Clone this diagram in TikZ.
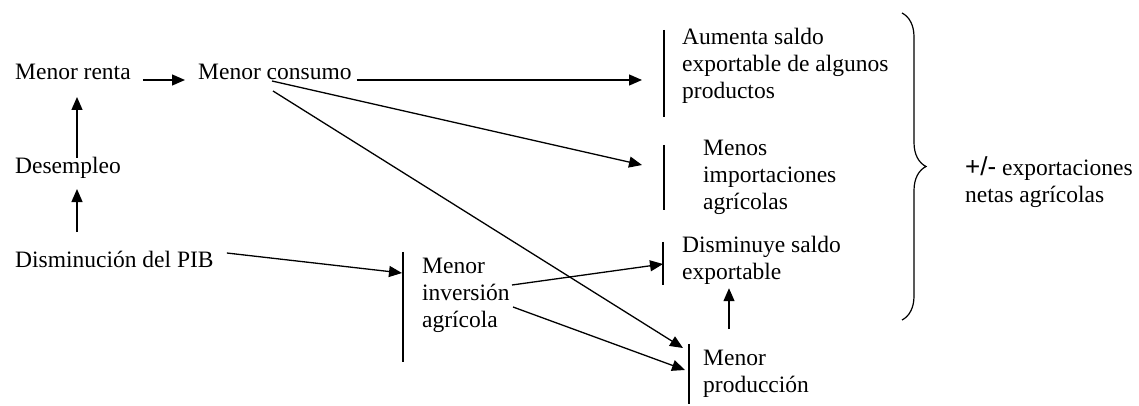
\documentclass[tikz,border=0pt]{standalone}
\usepackage{fontspec}
\setmainfont{Liberation Serif}
\newfontfamily\arialfont{Liberation Sans}
\usetikzlibrary{arrows.meta,decorations.pathreplacing}

\begin{document}
\begin{tikzpicture}[x=1pt,y=-1pt,
  lbl/.style={anchor=base west,inner sep=0pt,align=left,
              font=\fontsize{23.5}{27}\selectfont},
  barnode/.style={inner sep=0pt,minimum width=0pt,draw=none},
  barline/.style={line width=1.3pt},
  arr/.style={line width=1.3pt,-{Triangle[length=13pt,width=11pt]}}]

\useasboundingbox (0,0) rectangle (1139,406);

% text blocks (anchored on the baseline of their last line)
\node[lbl] (renta)   at (15,80)   {Menor renta};
\node[lbl] (consumo) at (198,80)  {Menor consumo};
\node[lbl] (desemp)  at (15,173)  {Desempleo};
\node[lbl] (pib)     at (15,267)  {Disminución del PIB};
\node[lbl] (aum)     at (682,99)  {Aumenta saldo\\exportable de algunos\\productos};
\node[lbl] (menos)   at (703,209) {Menos\\importaciones\\agrícolas};
\node[lbl] (dism)    at (682,279) {Disminuye saldo\\exportable};
\node[lbl] (inv)     at (422,327) {Menor\\inversión\\agrícola};
\node[lbl] (prod)    at (703,392) {Menor\\producción};
\node[lbl] (netas)   at (965,202) {{\arialfont\fontsize{26}{29}\selectfont +/-} exportaciones\\netas agrícolas};

% vertical bars in front of the effect blocks
\node[barnode,minimum height=87pt]  (barA) at (664,73.5)  {};
\node[barnode,minimum height=65pt]  (barB) at (664,177.5) {};
\node[barnode,minimum height=43pt]  (barC) at (663,263.5) {};
\node[barnode,minimum height=110pt] (barI) at (403,307)   {};
\node[barnode,minimum height=60pt]  (barP) at (689,374)   {};
\foreach \b in {barA,barB,barC,barI,barP}
  \draw[barline] (\b.north) -- (\b.south);

% causal arrows
\draw[arr] ([xshift=12pt]renta.base east) -- ([xshift=-13pt]consumo.base west);
\draw[arr] ([xshift=62pt,yshift=15pt]desemp.base west) -- ([xshift=62pt,yshift=-17pt]renta.base west);
\draw[arr] ([xshift=62pt,yshift=35pt]pib.base west) -- ([xshift=62pt,yshift=-16pt]desemp.base west);
\draw[arr] ([xshift=5pt]consumo.base east) -- ([xshift=-22pt,yshift=-6.5pt]barA.center);
\draw[arr] ([xshift=74pt,yshift=-1pt]consumo.base west) -- ([xshift=-22pt,yshift=12.5pt]barB.center);
\draw[arr] ([xshift=75pt,yshift=-11pt]consumo.base west) -- ([xshift=-6pt,yshift=26pt]barP.center);
\draw[arr] ([xshift=13pt,yshift=14pt]pib.base east) -- ([xshift=-1pt,yshift=34pt]barI.center);
\draw[arr] ([xshift=90pt,yshift=42pt]inv.base west) -- ([yshift=-0.5pt]barC.center);
\draw[arr] ([xshift=91pt,yshift=20pt]inv.base west) -- ([xshift=-4pt,yshift=4pt]barP.center);
\draw[arr] ([xshift=26pt,yshift=63pt]prod.base west) -- ([xshift=66pt,yshift=-3pt]barC.south);

% brace gathering the effects
\coordinate (braceTop) at (902,13);
\coordinate (braceBot) at (902,320);
\draw[line width=1.2pt,decorate,decoration={brace,amplitude=24pt,aspect=0.5}]
  (braceTop) -- (braceBot);

\end{tikzpicture}
\end{document}
